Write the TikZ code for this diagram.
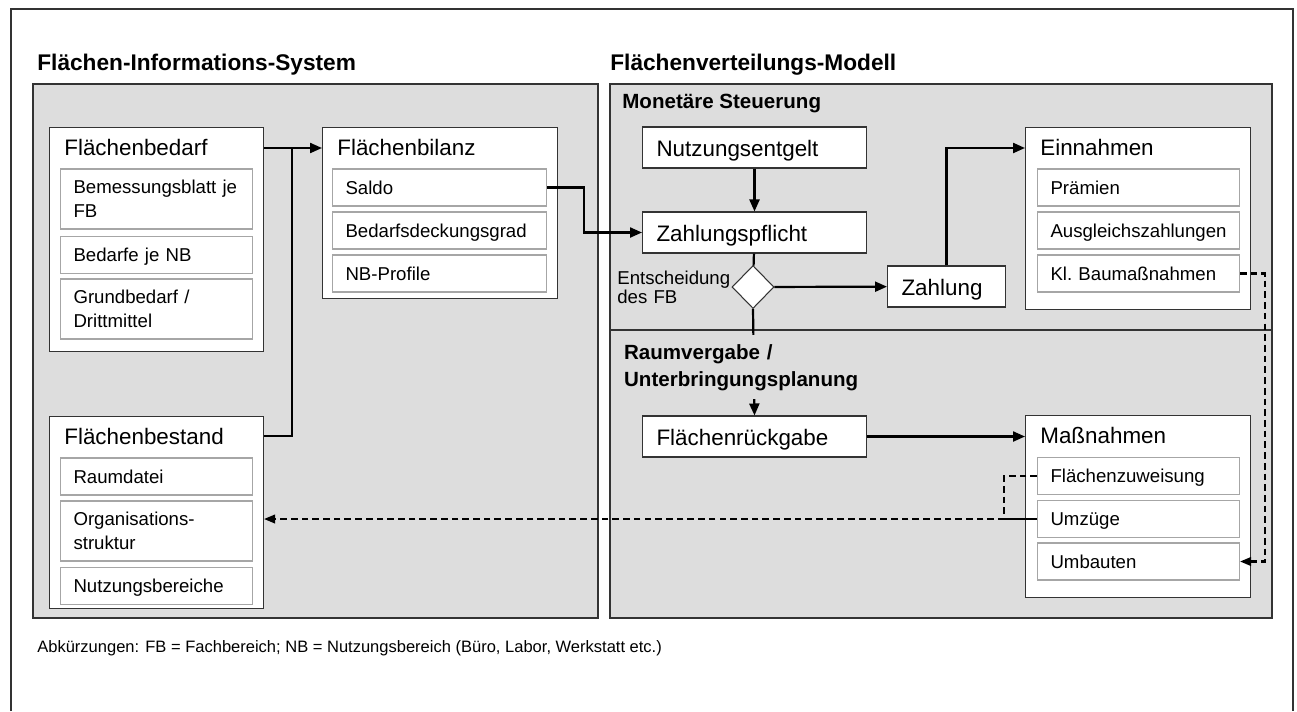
\documentclass[tikz,border=0pt]{standalone}
\usepackage{fontspec}
\setmainfont{Liberation Sans}
\usetikzlibrary{shapes.geometric,arrows.meta}
\definecolor{panelgray}{HTML}{DDDDDD}
\definecolor{subline}{HTML}{A6A6A6}
\definecolor{boxline}{HTML}{333333}
\tikzset{
  frame/.style={draw=boxline, line width=1pt},
  panel/.style={draw=boxline, fill=panelgray, line width=0.6pt},
  divider/.style={draw=boxline, line width=0.6pt},
  headline/.style={anchor=base west, inner sep=0pt, font=\fontsize{12.9}{15}\selectfont\bfseries},
  subhead/.style={anchor=base west, inner sep=0pt, font=\fontsize{11.7}{15.4}\selectfont\bfseries},
  boxtitle/.style={anchor=base west, xshift=0.3cm, yshift=-0.56cm, inner sep=0pt, font=\fontsize{12.75}{15}\selectfont},
  outerbox/.style={draw=boxline, fill=white, line width=0.6pt, anchor=north west, inner sep=0pt,
    label={[boxtitle]north west:#1}},
  subbox/.style={draw=subline, fill=white, line width=0.6pt, anchor=west, inner xsep=0.26cm, inner ysep=0pt,
    minimum height=0.74cm, text height=9pt, text depth=1.6pt, align=left, font=\fontsize{10.6}{13.5}\selectfont},
  twoline/.style={minimum height=1.2cm, text depth=15.1pt},
  procbox/.style={draw=boxline, fill=white, line width=0.6pt, anchor=west, inner xsep=0.28cm, inner ysep=0pt,
    minimum height=0.82cm, text height=11.5pt, text depth=1.8pt, align=left, font=\fontsize{12.75}{15}\selectfont},
  decision/.style={diamond, draw=boxline, fill=white, line width=0.6pt, inner sep=0pt, minimum width=0.84cm, minimum height=0.86cm},
  flow/.style={line width=1.25pt, -{Triangle[length=0.24cm,width=0.2cm]}},
  conn/.style={line width=1.25pt},
  dashflow/.style={line width=1.2pt, dash pattern=on 3.8pt off 2.3pt, -{Triangle[length=0.22cm,width=0.17cm]}},
  dashconn/.style={line width=1.2pt, dash pattern=on 3.8pt off 2.3pt},
}
\begin{document}
\begin{tikzpicture}[x=0.02cm, y=-0.02cm]
  \useasboundingbox (0,0) rectangle (1297,711);
  \draw[frame] (11,711) -- (11,9) -- (1293,9) -- (1293,711);

  % panels
  \draw[panel] (33,84) rectangle (598,618);
  \draw[panel] (610,84) rectangle (1272,618);
  \draw[divider] (610,330) -- (1272,330);
  \node[headline] (fisT) at (37,70) {Flächen-Informations-System};
  \node[headline] (fvmT) at (610,70) {Flächenverteilungs-Modell};
  \node[subhead] (monT) at (622,108) {Monetäre Steuerung};

  % Flaechen-Informations-System
  \node[outerbox=Flächenbedarf, minimum width=4.28cm, minimum height=4.48cm] (bedarf) at (49,127) {};
  \node[subbox, twoline, text width=3.32cm] (bemess) at (60,199) {Bemessungsblatt je\\FB};
  \node[subbox, text width=3.32cm] (bedNB) at (60,255) {Bedarfe je NB};
  \node[subbox, twoline, text width=3.32cm] (grund) at (60,309) {Grundbedarf /\\Drittmittel};

  \node[outerbox=Flächenbilanz, minimum width=4.70cm, minimum height=3.42cm] (bilanz) at (322,127) {};
  \node[subbox, text width=3.76cm] (saldo) at (332,187.5) {Saldo};
  \node[subbox, text width=3.76cm] (bedgrad) at (332,230.5) {Bedarfsdeckungsgrad};
  \node[subbox, text width=3.76cm] (nbprof) at (332,273.5) {NB-Profile};

  \node[outerbox=Flächenbestand, minimum width=4.28cm, minimum height=3.84cm] (bestand) at (49,416) {};
  \node[subbox, text width=3.32cm] (raum) at (60,476.5) {Raumdatei};
  \node[subbox, twoline, text width=3.32cm] (orga) at (60,531) {Organisations-\\struktur};
  \node[subbox, text width=3.32cm] (nutzb) at (60,586) {Nutzungsbereiche};

  % Flaechenverteilungs-Modell
  \node[procbox, text width=3.92cm] (entgelt) at (642,147.5) {Nutzungsentgelt};
  \node[procbox, text width=3.92cm] (pflicht) at (642,232.5) {Zahlungspflicht};
  \node[decision] (dec) at (753,287) {};
  \node[anchor=base west, inner sep=0pt, text width=2.4cm, align=left,
    font=\fontsize{10.6}{9.3}\selectfont] (decT) at (617,284) {Entscheidung\\des FB};
  \node[procbox, text width=1.8cm] (zahlung) at (887,286.5) {Zahlung};

  \node[outerbox=Einnahmen, minimum width=4.50cm, minimum height=3.64cm] (einnahmen) at (1025,127) {};
  \node[subbox, text width=3.52cm] (praem) at (1037,187.5) {Prämien};
  \node[subbox, text width=3.52cm] (ausgl) at (1037,230.5) {Ausgleichszahlungen};
  \node[subbox, text width=3.52cm] (klbau) at (1037,273.5) {Kl.\ Baumaßnahmen};

  \node[procbox, text width=3.92cm] (rueck) at (642,436.5) {Flächenrückgabe};

  \node[outerbox=Maßnahmen, minimum width=4.50cm, minimum height=3.64cm] (massn) at (1025,415) {};
  \node[subbox, text width=3.52cm] (zuweis) at (1037,476) {Flächenzuweisung};
  \node[subbox, text width=3.52cm] (umz) at (1037,519) {Umzüge};
  \node[subbox, text width=3.52cm] (umb) at (1037,561.5) {Umbauten};

  % connectors
  \draw[flow] ([yshift=-0.42cm]bedarf.north east) -- ([yshift=-0.42cm]bilanz.north west);
  \draw[conn] ([yshift=-0.4cm]bestand.north east) -| ([xshift=0.56cm,yshift=-0.42cm]bedarf.north east);
  \draw[flow] (saldo.east) -- ++(0.74cm,0) |- (pflicht.west);
  \draw[flow] (entgelt) -- (pflicht);
  \draw[conn] (pflicht) -- (dec);
  \draw[flow] (dec) -- (zahlung);
  \draw[flow] (zahlung.north) |- ([yshift=-0.42cm]einnahmen.north west);
  \draw[flow] (dec.south) -- (rueck.north);
  \draw[flow] (rueck.east) -- (rueck.east -| massn.west);
  \draw[dashflow] (klbau.east) -- ++(0.5cm,0) |- (umb.east);
  \draw[dashconn] (zuweis.west) -- ++(-0.66cm,0) |- (umz.west);
  \draw[dashflow] (umz.west) -- (umz.west -| bestand.east);

  \node[subhead, fill=panelgray, inner xsep=1pt, inner ysep=0.18cm, text width=5cm, align=left] (raumT) at (622,359)
    {Raumvergabe /\\Unterbringungsplanung};

  \node[anchor=base west, inner sep=0pt, font=\fontsize{9.4}{11}\selectfont] (abk) at (37,652)
    {Abkürzungen: FB = Fachbereich; NB = Nutzungsbereich (Büro, Labor, Werkstatt etc.)};
\end{tikzpicture}
\end{document}
